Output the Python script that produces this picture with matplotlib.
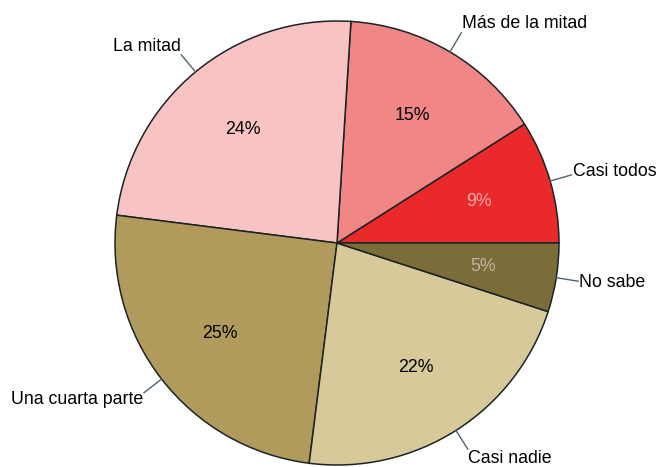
import matplotlib
matplotlib.use("Agg")
import matplotlib.pyplot as plt
import numpy as np

plt.rcParams["font.family"] = ["Liberation Sans", "DejaVu Sans"]

labels = ["Casi todos", "Más de la mitad", "La mitad", "Una cuarta parte", "Casi nadie", "No sabe"]
values = [9, 15, 24, 25, 22, 5]
colors = ["#EA2A2A", "#F08686", "#F8C3C3", "#B19B5C", "#D8C99A", "#7B6C3A"]
pct_colors = ["#F4AAAA", "black", "black", "black", "black", "#BEB6A0"]

W, H = 659, 467
cx, cy, R = 337, 243, 222

fig = plt.figure(figsize=(W / 100, H / 100), dpi=100)
ax = fig.add_axes([0, 0, 1, 1])

wedges, _ = ax.pie(values, colors=colors, startangle=0, counterclock=True,
                   radius=1.0, center=(0, 0), frame=True,
                   wedgeprops=dict(edgecolor="#1a2424", linewidth=1.1))
# map data units to pixels: 1 unit = R px, centre at (cx, cy)
ax.set_xlim(-cx / R, (W - cx) / R)
ax.set_ylim(-(H - cy) / R, cy / R)
ax.axis("off")

total = sum(values)
cum = 0
for lab, v, pc in zip(labels, values, pct_colors):
    mid = np.deg2rad((cum + v / 2) / total * 360)
    cum += v
    c, s = np.cos(mid), np.sin(mid)
    # percentage inside the slice
    ax.text(0.665 * c, 0.665 * s, f"{v}%", ha="center", va="center",
            fontsize=12.8, color=pc)
    # leader line and outer label
    ax.plot([c, 1.1 * c], [s, 1.1 * s], color="#4f6470", linewidth=1.0)
    ax.text(1.105 * c, 1.15 * s, lab, ha="left" if c > 0 else "right",
            va="center", fontsize=12.8, color="black")

fig.savefig("out.png", dpi=100)
